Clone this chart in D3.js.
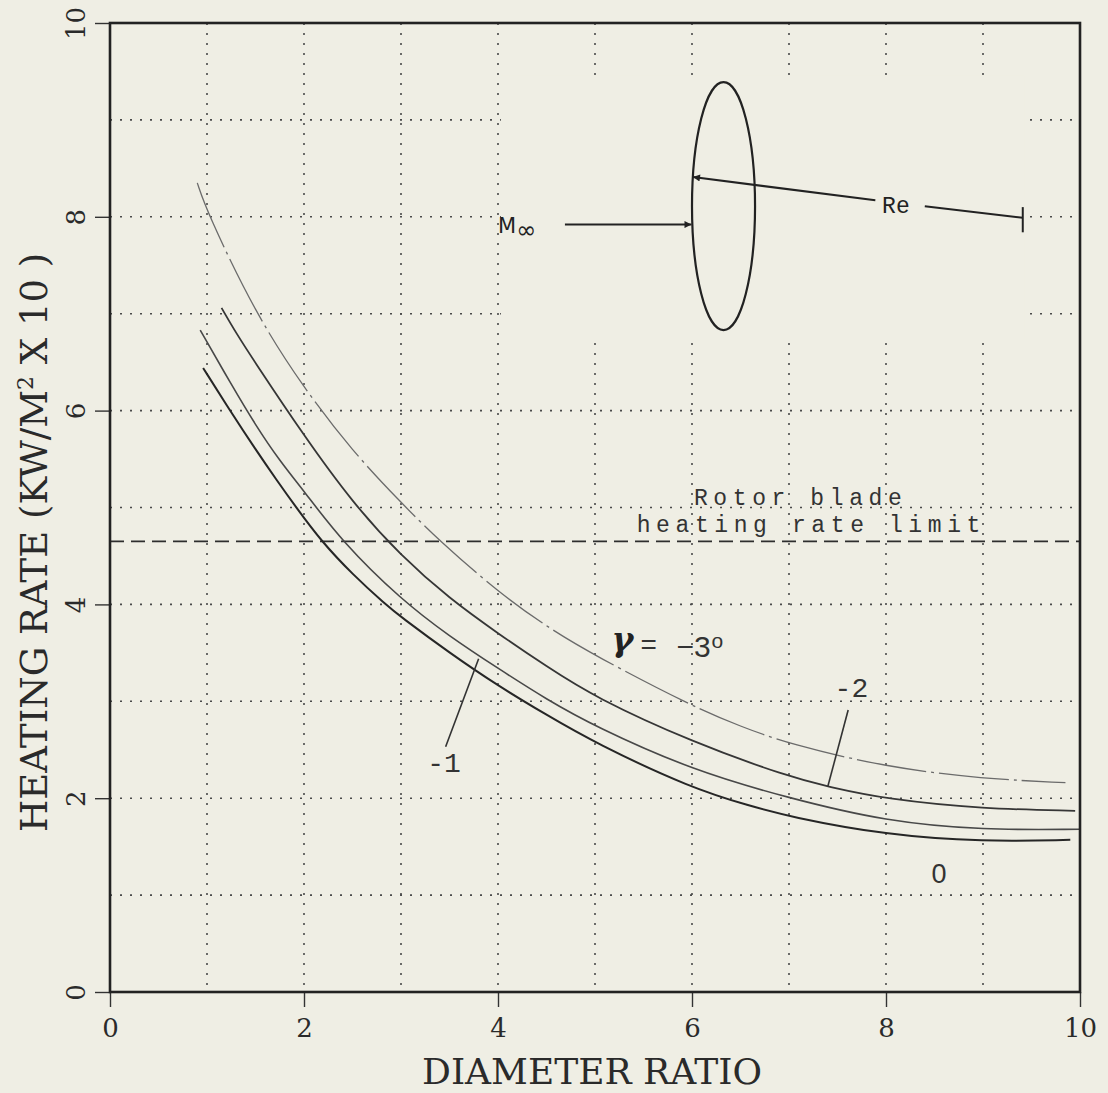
<!DOCTYPE html>
<html>
<head>
<meta charset="utf-8">
<script src="https://cdn.jsdelivr.net/npm/d3@7"></script>
<style>
  body { margin: 0; background: #efeee4; }
  svg { display: block; }
</style>
</head>
<body>
<svg width="1108" height="1093"></svg>
<script>
// data
const xTicks = [0, 2, 4, 6, 8, 10];
const yTicks = [0, 2, 4, 6, 8, 10];
const gridVals = [1, 2, 3, 4, 5, 6, 7, 8, 9];
const limitRate = 4.65;

// heating rate vs diameter ratio, one curve per flight path angle
const gammaMinus3 = [[0.9, 8.35], [1.0, 8.05], [1.5, 7.0], [2.0, 6.23], [2.5, 5.58], [3.0, 5.05], [3.4, 4.65],
  [4.0, 4.13], [4.5, 3.77], [5.0, 3.47], [6.0, 2.95], [6.5, 2.74], [7.0, 2.56], [8.0, 2.32], [9.0, 2.2], [9.85, 2.16]];
const gammaMinus2 = [[1.15, 7.06], [1.3, 6.8], [1.5, 6.49], [2.0, 5.74], [2.5, 5.05], [3.0, 4.5], [3.5, 4.06],
  [4.0, 3.7], [4.5, 3.36], [5.0, 3.04], [6.0, 2.58], [7.0, 2.22], [7.4, 2.12], [8.0, 1.99], [9.0, 1.89], [9.95, 1.87]];
const gammaMinus1 = [[0.93, 6.83], [1.25, 6.27], [1.5, 5.85], [1.75, 5.48], [2.0, 5.17], [2.39, 4.65],
  [3.0, 4.05], [3.5, 3.67], [4.0, 3.34], [4.5, 3.02], [5.0, 2.74], [6.0, 2.29], [7.0, 2.0], [8.0, 1.76], [9.0, 1.67], [10.0, 1.68]];
const gammaZero = [[0.96, 6.44], [1.25, 5.98], [1.5, 5.6], [1.72, 5.28], [1.92, 5.0], [2.18, 4.65], [2.5, 4.31],
  [2.84, 4.0], [3.0, 3.87], [3.5, 3.5], [4.0, 3.16], [4.5, 2.86], [5.0, 2.57], [6.0, 2.1], [6.6, 1.92], [7.0, 1.81],
  [8.0, 1.62], [9.0, 1.55], [9.9, 1.57]];

const width = 1108, height = 1093;
const bg = "#efeee4";
const svg = d3.select("svg");
svg.append("rect").attr("width", width).attr("height", height).attr("fill", bg);

const x = d3.scaleLinear().domain([0, 10]).range([110, 1080]);
const y = d3.scaleLinear().domain([0, 10]).range([992, 23]);

// marker for the sketch arrows
svg.append("defs").append("marker")
  .attr("id", "arrow").attr("viewBox", "0 0 10 10").attr("refX", 10).attr("refY", 5)
  .attr("markerWidth", 24).attr("markerHeight", 7).attr("markerUnits", "userSpaceOnUse")
  .attr("orient", "auto")
  .append("path").attr("d", "M0,0 L10,5 L0,10 z").attr("fill", "#222");

// dotted grid
const grid = svg.append("g").attr("stroke", "#4a4a4a").attr("stroke-width", 1.6).attr("stroke-dasharray", "2,8");
grid.selectAll(".gx").data(gridVals).join("line").attr("class", "gx")
  .attr("x1", d => x(d)).attr("x2", d => x(d)).attr("y1", y(10)).attr("y2", y(0));
grid.selectAll(".gy").data(gridVals).join("line").attr("class", "gy")
  .attr("y1", d => y(d)).attr("y2", d => y(d)).attr("x1", x(0)).attr("x2", x(10));

// the pasted-in sketch hides part of the grid
svg.append("rect")
  .attr("x", x(4.03)).attr("y", y(9.46))
  .attr("width", x(9.43) - x(4.03)).attr("height", y(6.73) - y(9.46))
  .attr("fill", bg);

// blade heating limit
svg.append("line")
  .attr("x1", x(0)).attr("x2", x(10)).attr("y1", y(limitRate)).attr("y2", y(limitRate))
  .attr("stroke", "#2e2e2e").attr("stroke-width", 1.8).attr("stroke-dasharray", "14,7");

const mono = "'Liberation Mono', 'DejaVu Sans Mono', monospace";
svg.append("text").attr("x", x(6.02)).attr("y", 505)
  .attr("font-family", mono).attr("font-size", 23).attr("letter-spacing", 5.6).attr("fill", "#333")
  .text("Rotor blade");
svg.append("text").attr("x", x(5.43)).attr("y", 532)
  .attr("font-family", mono).attr("font-size", 23).attr("letter-spacing", 5.6).attr("fill", "#333")
  .text("heating rate limit");

// curves
const line = d3.line().x(d => x(d[0])).y(d => y(d[1])).curve(d3.curveBasis);
const curves = [
  {data: gammaMinus3, color: "#6b6b6b", w: 1.3, dash: "70,5,3,5"},
  {data: gammaMinus2, color: "#363636", w: 1.8, dash: null},
  {data: gammaMinus1, color: "#484848", w: 1.6, dash: null},
  {data: gammaZero, color: "#262626", w: 2.0, dash: null}
];
svg.append("g").selectAll("path").data(curves).join("path")
  .attr("d", d => line(d.data))
  .attr("fill", "none")
  .attr("stroke", d => d.color)
  .attr("stroke-width", d => d.w)
  .attr("stroke-dasharray", d => d.dash);

// curve labels
svg.append("text").attr("x", x(5.17)).attr("y", 651)
  .attr("font-family", "'DejaVu Serif', serif").attr("font-style", "italic").attr("font-weight", "bold")
  .attr("font-size", 33).attr("fill", "#222").text("γ");
svg.append("text").attr("x", x(5.47)).attr("y", 654)
  .attr("font-family", "'Liberation Sans', sans-serif").attr("font-size", 28).attr("fill", "#333").text("=");
svg.append("text").attr("x", x(5.84)).attr("y", 657)
  .attr("font-family", "'Liberation Sans', sans-serif").attr("font-size", 30).attr("fill", "#333").text("−3");
svg.append("text").attr("x", x(6.2)).attr("y", 648)
  .attr("font-family", "'Liberation Sans', sans-serif").attr("font-size", 21).attr("fill", "#333").text("o");

svg.append("line").attr("x1", x(3.46)).attr("y1", y(2.53)).attr("x2", x(3.8)).attr("y2", y(3.44))
  .attr("stroke", "#333").attr("stroke-width", 1.6);
svg.append("text").attr("x", x(3.27)).attr("y", 772)
  .attr("font-family", mono).attr("font-size", 28).attr("fill", "#333").text("-1");

svg.append("line").attr("x1", x(7.61)).attr("y1", y(2.91)).attr("x2", x(7.4)).attr("y2", y(2.12))
  .attr("stroke", "#333").attr("stroke-width", 1.6);
svg.append("text").attr("x", x(7.47)).attr("y", 697)
  .attr("font-family", mono).attr("font-size", 28).attr("fill", "#333").text("-2");

svg.append("text").attr("x", x(8.47)).attr("y", 883)
  .attr("font-family", "'Liberation Sans', sans-serif").attr("font-size", 27).attr("fill", "#333").text("0");

// rotor disk sketch
const disk = {cx: 6.325, cy: 8.11, rx: 0.325, ry: 1.28};
svg.append("ellipse")
  .attr("cx", x(disk.cx)).attr("cy", y(disk.cy))
  .attr("rx", x(disk.cx + disk.rx) - x(disk.cx)).attr("ry", y(disk.cy - disk.ry) - y(disk.cy))
  .attr("fill", "none").attr("stroke", "#222").attr("stroke-width", 2.2);

svg.append("line").attr("x1", x(4.69)).attr("y1", y(7.92)).attr("x2", x(5.995)).attr("y2", y(7.92))
  .attr("stroke", "#222").attr("stroke-width", 2).attr("marker-end", "url(#arrow)");
const mText = svg.append("text").attr("x", x(4.0)).attr("y", y(7.83))
  .attr("font-family", "'DejaVu Sans', sans-serif").attr("font-size", 21).attr("fill", "#222");
mText.append("tspan").text("M");
mText.append("tspan").attr("dy", 5).attr("font-size", 24).text("∞");

svg.append("line").attr("x1", x(7.89)).attr("y1", y(8.17)).attr("x2", x(6.01)).attr("y2", y(8.41))
  .attr("stroke", "#222").attr("stroke-width", 2).attr("marker-end", "url(#arrow)");
svg.append("text").attr("x", x(7.96)).attr("y", y(8.04))
  .attr("font-family", mono).attr("font-size", 23).attr("fill", "#222").text("Re");
svg.append("line").attr("x1", x(8.4)).attr("y1", y(8.11)).attr("x2", x(9.41)).attr("y2", y(7.99))
  .attr("stroke", "#222").attr("stroke-width", 2);
svg.append("line").attr("x1", x(9.41)).attr("y1", y(8.1)).attr("x2", x(9.41)).attr("y2", y(7.84))
  .attr("stroke", "#222").attr("stroke-width", 2);

// axes
const serif = "'DejaVu Serif', serif";
const xAxis = svg.append("g").attr("transform", `translate(0,${y(0)})`)
  .call(d3.axisBottom(x).tickValues(xTicks).tickSize(15).tickFormat(d3.format("d")));
xAxis.select(".domain").remove();
xAxis.selectAll("line").attr("stroke", "#333").attr("stroke-width", 1.4);
xAxis.selectAll("text").attr("y", 45).attr("dy", 0)
  .attr("font-family", serif).attr("font-size", 26).attr("fill", "#2a2a2a");

const yAxis = svg.append("g").attr("transform", `translate(${x(0)},0)`)
  .call(d3.axisLeft(y).tickValues(yTicks).tickSize(15).tickFormat(d3.format("d")));
yAxis.select(".domain").remove();
yAxis.selectAll("line").attr("stroke", "#333").attr("stroke-width", 1.4);
yAxis.selectAll("text").attr("x", 0).attr("dy", 0)
  .attr("transform", "translate(-25,0) rotate(-90)")
  .attr("text-anchor", "middle")
  .attr("font-family", serif).attr("font-size", 26).attr("fill", "#2a2a2a");

// plot frame
svg.append("rect")
  .attr("x", x(0)).attr("y", y(10)).attr("width", x(10) - x(0)).attr("height", y(0) - y(10))
  .attr("fill", "none").attr("stroke", "#222").attr("stroke-width", 2.6);

// axis titles
svg.append("text").attr("x", 592).attr("y", 1084).attr("text-anchor", "middle")
  .attr("font-family", serif).attr("font-size", 36).attr("fill", "#2a2a2a")
  .text("DIAMETER RATIO");

const yTitle = svg.append("text").attr("transform", "translate(47,832) rotate(-90)")
  .attr("font-family", serif).attr("font-size", 37).attr("fill", "#2a2a2a");
yTitle.append("tspan").text("HEATING RATE (KW/M");
yTitle.append("tspan").attr("dy", -14).attr("font-size", 22).text("2");
yTitle.append("tspan").attr("dy", 14).text(" X 10 )");
</script>
</body>
</html>
